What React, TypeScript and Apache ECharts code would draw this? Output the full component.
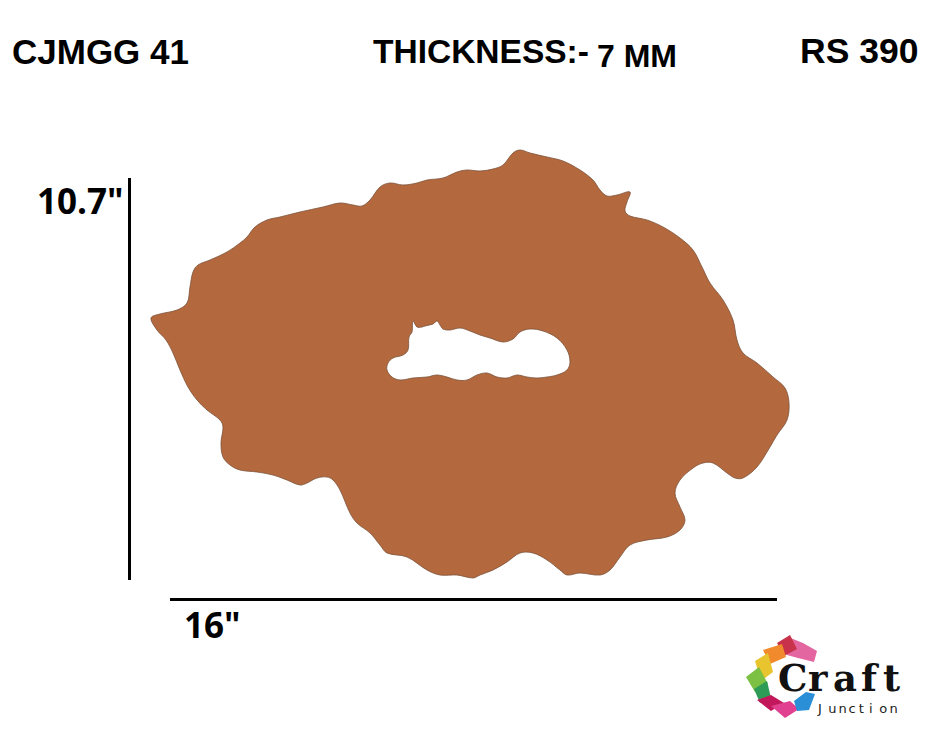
import { useEffect, useRef } from 'react';
import * as echarts from 'echarts';

// outer edge of the cut-out (page px)
const outline: number[][] = [
  [151, 318], [160, 314], [177, 310], [187, 303], [190, 287], [193, 272], [198, 265], [210, 260],
  [227, 252], [240, 243], [247, 237], [255, 227], [267, 220], [280, 217], [300, 212], [323, 207],
  [340, 203], [353, 205], [362, 206], [370, 200], [380, 187], [390, 183], [403, 185], [417, 183],
  [427, 180], [443, 178], [457, 172], [467, 170], [480, 171], [493, 169], [503, 165], [513, 153],
  [520, 150], [530, 153], [547, 157], [563, 161], [580, 170], [593, 180], [600, 190], [607, 196],
  [617, 195], [630, 192], [627, 202], [625, 211], [630, 216], [647, 220], [663, 227], [680, 238],
  [693, 250], [702, 267], [710, 283], [723, 300], [733, 320], [737, 340], [743, 353], [757, 363],
  [773, 377], [785, 388], [789, 403], [787, 420], [777, 435], [770, 447], [757, 467], [743, 478],
  [735, 478], [727, 473], [713, 463], [703, 463], [693, 468], [680, 480], [675, 493], [680, 507],
  [685, 520], [680, 530], [667, 537], [647, 540], [630, 545], [620, 557], [610, 570], [600, 575],
  [580, 573], [567, 575], [560, 570], [547, 560], [533, 553], [520, 553], [507, 562], [493, 570],
  [480, 575], [473, 578], [457, 575], [440, 575], [427, 570], [407, 557], [387, 553], [380, 545],
  [370, 533], [357, 523], [350, 513], [340, 490], [333, 480], [327, 477], [317, 478], [307, 483],
  [300, 485], [287, 480], [273, 475], [257, 472], [240, 470], [230, 465], [223, 457], [221, 443],
  [223, 427], [220, 420], [207, 410], [197, 400], [188, 387], [180, 370], [173, 353], [166, 340],
  [157, 330],
];

// inner hole
const hole: number[][] = [
  [388, 363], [393, 358], [403, 355], [408, 350], [409, 337], [412, 332], [413, 321], [417, 327],
  [422, 327], [425, 326], [433, 324], [437, 321], [440, 325], [443, 329], [450, 330], [460, 328],
  [470, 331], [480, 335], [490, 338], [503, 342], [513, 339], [520, 332], [530, 329], [543, 331],
  [557, 338], [567, 350], [570, 362], [567, 370], [557, 375], [547, 377], [537, 378], [527, 377],
  [517, 375], [507, 378], [497, 377], [487, 373], [477, 375], [467, 380], [457, 380], [447, 377],
  [437, 375], [427, 377], [413, 378], [400, 380], [392, 377], [387, 370],
];

const headerLabels = ['CJMGG 41', 'THICKNESS:-', '7 MM', 'RS 390'];
const sizeLabels = ['10.7"', '16"'];
const brandLetters = ['C', 'r', 'a', 'f', 't'];
const subLetters = ['J', 'u', 'n', 'c', 't', 'i', 'o', 'n'];

const ribbons: { pts: number[][]; color: string }[] = [
  { pts: [[788, 637], [803, 643], [817, 651], [814, 662], [798, 658], [787, 655]], color: '#e466a0' },
  { pts: [[777, 643], [790, 635], [797, 649], [784, 656]], color: '#c8324a' },
  { pts: [[763, 650], [782, 644], [786, 657], [770, 664]], color: '#f08a2c' },
  { pts: [[755, 661], [768, 653], [773, 672], [761, 681]], color: '#e8c42e' },
  { pts: [[746, 677], [759, 667], [768, 684], [755, 692]], color: '#7cc144' },
  { pts: [[754, 689], [767, 681], [771, 698], [760, 703]], color: '#2e9b57' },
  { pts: [[757, 700], [771, 695], [784, 703], [771, 711]], color: '#c2185b' },
  { pts: [[771, 706], [790, 701], [799, 709], [785, 718]], color: '#e0408f' },
  { pts: [[794, 701], [806, 692], [815, 694], [809, 710], [797, 711]], color: '#2a8fd6' },
];

export default function App() {
  const ref = useRef<HTMLDivElement>(null);

  useEffect(() => {
    if (!ref.current) return;
    const chart = echarts.init(ref.current, undefined, { renderer: 'svg' });

    const head = { fontFamily: 'Liberation Sans', fontWeight: 'bold', fill: '#000', verticalAlign: 'middle' };
    const dim = { fontFamily: 'Open Sans', fontWeight: 'bold', fontSize: 35, fill: '#000', verticalAlign: 'middle' };

    chart.setOption({
      animation: false,
      grid: { left: 0, right: 0, top: 0, bottom: 0 },
      xAxis: { type: 'value', min: 0, max: 940, show: false },
      yAxis: { type: 'value', min: 0, max: 729, inverse: true, show: false },
      series: [
        {
          type: 'custom',
          data: [0],
          renderItem: (_p: any, api: any) => ({
            type: 'group',
            children: [
              {
                type: 'polygon',
                shape: { points: outline.map((p) => api.coord(p)), smooth: 0.35 },
                style: { fill: '#b4683d', stroke: '#7a5238', lineWidth: 0.8 },
              },
              {
                type: 'polygon',
                shape: { points: hole.map((p) => api.coord(p)), smooth: 0.35 },
                style: { fill: '#ffffff', stroke: '#7a5238', lineWidth: 0.8 },
              },
            ],
          }),
        },
      ],
      graphic: [
        { type: 'text', x: 12, y: 51, style: { ...head, text: headerLabels[0], fontSize: 35 } },
        { type: 'text', x: 373, y: 51, style: { ...head, text: headerLabels[1], fontSize: 33.5 } },
        { type: 'text', x: 597, y: 56, style: { ...head, text: headerLabels[2], fontSize: 32 } },
        { type: 'text', x: 800, y: 51, style: { ...head, text: headerLabels[3], fontSize: 35.5 } },
        { type: 'text', x: 37, y: 200, style: { ...dim, text: sizeLabels[0] } },
        { type: 'text', x: 184, y: 624, style: { ...dim, text: sizeLabels[1] } },
        { type: 'line', shape: { x1: 129.5, y1: 178, x2: 129.5, y2: 580 }, style: { stroke: '#000', lineWidth: 3 } },
        { type: 'line', shape: { x1: 170, y1: 599.5, x2: 777, y2: 599.5 }, style: { stroke: '#000', lineWidth: 3 } },
        ...ribbons.map((r) => ({ type: 'polygon', shape: { points: r.pts }, style: { fill: r.color } })),
        ...brandLetters.map((c, i) => ({
          type: 'text',
          x: [778, 808, 833, 861, 883][i],
          y: 678,
          style: {
            text: c,
            fontFamily: 'DejaVu Serif',
            fontWeight: 'bold',
            fontSize: 37,
            fill: '#111',
            verticalAlign: 'middle',
          },
        })),
        ...subLetters.map((c, i) => ({
          type: 'text',
          x: 818 + i * 10.2,
          y: 708,
          style: { text: c, fontFamily: 'DejaVu Sans', fontSize: 13, fill: '#222', verticalAlign: 'middle' },
        })),
      ],
    });

    return () => chart.dispose();
  }, []);

  return <div ref={ref} style={{ position: 'absolute', left: 0, top: 0, width: 940, height: 729 }} />;
}
